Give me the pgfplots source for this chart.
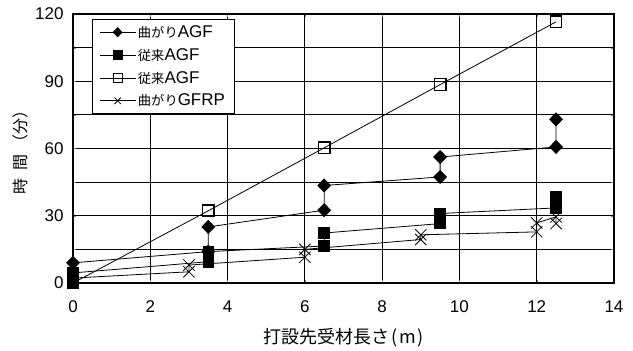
\documentclass[border=0pt]{standalone}
\usepackage{pgfplots}
\pgfplotsset{compat=1.18}
\usepackage{fontspec}
\setmainfont{Liberation Sans}
\newfontfamily\jp{Noto Sans CJK JP}
\newfontfamily\jps[Scale=0.78]{Noto Sans CJK JP}
\begin{document}
\begin{tikzpicture}
\path (-73pt,-64pt) rectangle (560pt,283pt);
\begin{axis}[
  scale only axis, width=541pt, height=269pt,
  xmin=0, xmax=14, ymin=0, ymax=120,
  xtick={0,2,...,14},
  ytick={0,15,...,120},
  yticklabels={0,,30,,60,,90,,120},
  grid=major,
  grid style={draw=black, line width=0.9pt, solid},
  axis line style={draw=black, line width=1.2pt},
  tick align=inside, major tick length=3pt,
  font=\fontsize{17}{20}\selectfont,
  /pgf/number format/assume math mode=true,
  xticklabel style={yshift=-14pt},
  yticklabel style={xshift=-6pt},
  xlabel={\fontsize{18}{20}\selectfont\jp 打設先受材長さ\hspace{0.1em}(\hspace{0.1em}m\hspace{0.1em})},
  xlabel style={yshift=-9pt},
  ylabel={\fontsize{16}{18}\selectfont\jp 時\hspace{0.5em}間\hspace{0.3em}（分）},
  clip mode=individual,
  legend style={at={(rel axis cs:0.035,0.981)}, anchor=north west,
    draw=black, line width=0.8pt, fill=white, inner xsep=7pt, inner ysep=4pt, row sep=5.5pt,
    font=\fontsize{17}{20}\selectfont},
  legend cell align=left,
  legend image code/.code={%
    \draw[mark repeat=2,mark phase=2,mark size=4.5pt] plot coordinates {(0cm,0cm) (0.63cm,0cm) (1.26cm,0cm)};},
]
\addplot[black, line width=0.8pt, mark=diamond*, mark size=6.5pt, mark options={xscale=1.3, solid, fill=black}]
  coordinates {(0,9) (3.5,14) (3.5,25) (6.5,32.5) (6.5,43.5) (9.5,47.3) (9.5,56.2) (12.5,60.7) (12.5,73)};
\addlegendentry{\jps 曲がり\rmfamily AGF}
\addplot[black, line width=0.8pt, mark=square*, mark size=5.3pt, mark options={solid, fill=black}]
  coordinates {(0,0) (0,4.5) (3.5,9.5) (3.5,14) (6.5,16.5) (6.5,22.3) (9.5,26.5) (9.5,31) (12.5,33.5) (12.5,38.3)};
\addlegendentry{\jps 従来\rmfamily AGF}
\addplot[black, line width=0.8pt, mark=square, mark size=5.8pt, mark options={solid, line width=1.2pt, fill=white}]
  coordinates {(0,0) (3.5,32.2) (6.5,60.3) (9.5,88.5) (12.5,116.5)};
\addlegendentry{\jps 従来\rmfamily AGF}
\addplot[black, line width=0.8pt, mark=x, mark size=8pt, mark options={solid, line width=0.8pt}]
  coordinates {(0,0) (0,2.2) (3,5) (3,8) (6,11.5) (6,15) (9,19.4) (9,21.5) (12,22.8) (12,26.8) (12.5,29.5) (12.5,26.5)};
\addlegendentry{\jps 曲がり\rmfamily GFRP}
\end{axis}
\end{tikzpicture}
\end{document}
